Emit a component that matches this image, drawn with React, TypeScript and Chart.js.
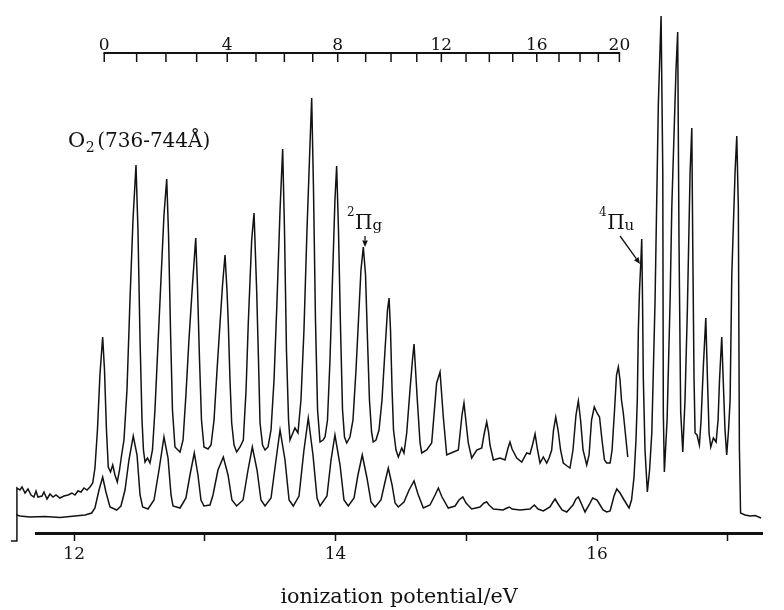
import React, { useEffect, useRef } from 'react';
import { Chart, registerables } from 'chart.js';

Chart.register(...registerables);

const INK = '#121212';
const SERIF = '"DejaVu Serif", "Liberation Serif", serif';

// ---- data: [ionization potential (eV), relative intensity] ----
const upperTrace: [number, number][] = [
  [11.562, 18], [11.562, 45], [11.585, 43], [11.601, 46], [11.624, 40], [11.647, 44], [11.670, 38], [11.692, 36],
  [11.708, 42], [11.723, 36], [11.754, 37], [11.769, 41], [11.792, 34], [11.815, 39], [11.838, 36], [11.861, 38],
  [11.891, 35], [11.922, 37], [11.953, 38], [11.983, 40], [12.006, 38], [12.029, 42], [12.052, 41], [12.075, 45],
  [12.098, 43], [12.121, 46], [12.142, 50], [12.159, 65], [12.178, 103], [12.197, 158], [12.218, 196], [12.232, 163],
  [12.247, 103], [12.261, 66], [12.278, 61], [12.295, 68], [12.312, 58], [12.330, 51], [12.347, 63], [12.363, 78],
  [12.381, 93], [12.404, 143], [12.427, 233], [12.450, 313], [12.473, 368], [12.488, 303], [12.504, 193], [12.519, 113],
  [12.530, 83], [12.542, 71], [12.561, 75], [12.580, 70], [12.599, 83], [12.618, 123], [12.641, 188], [12.664, 253],
  [12.687, 318], [12.708, 354], [12.722, 298], [12.737, 203], [12.752, 123], [12.771, 86], [12.794, 83], [12.810, 81],
  [12.833, 93], [12.855, 138], [12.878, 193], [12.905, 248], [12.930, 295], [12.943, 248], [12.959, 173], [12.974, 113],
  [12.993, 86], [13.024, 84], [13.047, 88], [13.070, 113], [13.093, 163], [13.116, 210], [13.135, 248], [13.154, 278],
  [13.169, 243], [13.179, 210], [13.192, 153], [13.205, 110], [13.223, 88], [13.243, 81], [13.269, 86], [13.294, 93],
  [13.315, 143], [13.332, 210], [13.358, 293], [13.376, 320], [13.396, 243], [13.410, 173], [13.422, 110], [13.441, 88],
  [13.460, 83], [13.483, 86], [13.506, 103], [13.529, 153], [13.552, 233], [13.575, 323], [13.595, 384], [13.609, 303],
  [13.624, 183], [13.640, 113], [13.651, 93], [13.670, 99], [13.689, 105], [13.712, 100], [13.735, 133], [13.758, 203],
  [13.781, 303], [13.800, 373], [13.817, 435], [13.831, 343], [13.846, 213], [13.862, 123], [13.881, 91], [13.904, 93],
  [13.919, 96], [13.938, 113], [13.957, 173], [13.976, 253], [13.995, 333], [14.008, 367], [14.022, 303], [14.038, 203],
  [14.053, 123], [14.068, 96], [14.085, 90], [14.110, 96], [14.133, 113], [14.156, 163], [14.175, 213], [14.194, 263],
  [14.212, 286], [14.229, 258], [14.244, 193], [14.259, 133], [14.275, 101], [14.288, 91], [14.309, 93], [14.332, 103],
  [14.355, 133], [14.378, 183], [14.397, 223], [14.409, 235], [14.420, 203], [14.432, 143], [14.443, 103], [14.462, 83],
  [14.480, 76], [14.506, 85], [14.523, 80], [14.544, 100], [14.569, 143], [14.588, 173], [14.600, 189], [14.625, 133],
  [14.646, 90], [14.659, 80], [14.697, 83], [14.735, 90], [14.773, 150], [14.799, 161], [14.824, 116], [14.850, 78],
  [14.901, 81], [14.939, 83], [14.967, 118], [14.982, 130], [15.015, 90], [15.041, 75], [15.080, 83], [15.118, 85],
  [15.135, 98], [15.156, 111], [15.170, 101], [15.181, 88], [15.207, 73], [15.258, 75], [15.296, 73], [15.319, 85],
  [15.334, 91], [15.350, 84], [15.386, 75], [15.424, 71], [15.462, 80], [15.487, 79], [15.506, 88], [15.526, 99],
  [15.545, 83], [15.564, 70], [15.589, 76], [15.615, 70], [15.633, 75], [15.653, 83], [15.667, 103], [15.684, 116],
  [15.702, 103], [15.721, 83], [15.742, 70], [15.771, 67], [15.793, 65], [15.816, 83], [15.839, 118], [15.857, 132],
  [15.874, 113], [15.893, 83], [15.921, 68], [15.939, 78], [15.958, 113], [15.979, 126], [16.000, 120], [16.019, 116],
  [16.038, 93], [16.057, 73], [16.074, 70], [16.100, 70], [16.115, 83], [16.134, 123], [16.149, 158], [16.163, 166],
  [16.176, 153], [16.187, 133], [16.201, 120], [16.218, 98], [16.235, 76],
];

const lowerTrace: [number, number][] = [
  [11.516, -8], [11.562, -8], [11.562, 18], [11.585, 17], [11.662, 16], [11.777, 16.5], [11.891, 15.5], [12.006, 17],
  [12.083, 18], [12.134, 20], [12.159, 25], [12.190, 43], [12.218, 56], [12.243, 41], [12.274, 26], [12.325, 23],
  [12.358, 27], [12.389, 43], [12.419, 73], [12.452, 97], [12.481, 78], [12.504, 38], [12.524, 26], [12.565, 24],
  [12.611, 33], [12.649, 63], [12.687, 96], [12.718, 75], [12.741, 38], [12.756, 27], [12.810, 25], [12.855, 35],
  [12.886, 58], [12.919, 80], [12.947, 58], [12.970, 33], [12.993, 27], [13.039, 28], [13.062, 38], [13.100, 63],
  [13.141, 76], [13.177, 58], [13.207, 33], [13.243, 27], [13.292, 33], [13.330, 63], [13.363, 86], [13.399, 63],
  [13.429, 33], [13.460, 27], [13.506, 35], [13.544, 73], [13.575, 103], [13.613, 73], [13.644, 33], [13.676, 27],
  [13.720, 37], [13.758, 83], [13.791, 115], [13.827, 78], [13.858, 35], [13.881, 27], [13.934, 37], [13.965, 73],
  [13.995, 98], [14.034, 68], [14.064, 33], [14.097, 27], [14.141, 35], [14.171, 58], [14.204, 78], [14.240, 55],
  [14.271, 31], [14.302, 26], [14.347, 33], [14.378, 51], [14.403, 65], [14.432, 48], [14.455, 30], [14.480, 26],
  [14.523, 31], [14.562, 43], [14.600, 52], [14.630, 39], [14.671, 25], [14.722, 28], [14.761, 38], [14.786, 45],
  [14.814, 36], [14.862, 25], [14.914, 27], [14.944, 33], [14.973, 36], [14.998, 30], [15.041, 24], [15.105, 26],
  [15.135, 30], [15.156, 31], [15.174, 28], [15.207, 24], [15.281, 23], [15.311, 25], [15.329, 26], [15.350, 24],
  [15.411, 23], [15.487, 24], [15.520, 28], [15.549, 24], [15.589, 22], [15.640, 26], [15.663, 31], [15.679, 34],
  [15.702, 29], [15.732, 23], [15.768, 21], [15.816, 28], [15.839, 34], [15.857, 36], [15.878, 30], [15.908, 21],
  [15.939, 28], [15.967, 35], [16.000, 33], [16.023, 28], [16.046, 23], [16.074, 21], [16.100, 22], [16.130, 37],
  [16.151, 44], [16.176, 40], [16.207, 33], [16.245, 25], [16.264, 33], [16.283, 56], [16.298, 93], [16.308, 133],
  [16.316, 203], [16.325, 243], [16.334, 268], [16.342, 294], [16.348, 233], [16.354, 155], [16.367, 83], [16.385, 41],
  [16.402, 63], [16.419, 100], [16.444, 233], [16.469, 429], [16.490, 517], [16.503, 361], [16.507, 121], [16.515, 61],
  [16.536, 113], [16.559, 233], [16.572, 326], [16.604, 463], [16.617, 501], [16.627, 292], [16.640, 121], [16.656, 81],
  [16.673, 133], [16.691, 223], [16.712, 361], [16.725, 405], [16.732, 292], [16.742, 155], [16.750, 100], [16.765, 98],
  [16.783, 88], [16.796, 113], [16.813, 166], [16.832, 215], [16.845, 153], [16.857, 100], [16.870, 86], [16.890, 95],
  [16.911, 91], [16.926, 113], [16.937, 153], [16.954, 196], [16.968, 143], [16.979, 103], [16.992, 78], [17.006, 103],
  [17.018, 133], [17.031, 258], [17.056, 361], [17.069, 397], [17.081, 326], [17.089, 86], [17.098, 20], [17.132, 18],
  [17.171, 17], [17.209, 17.5], [17.255, 15],
];

// bottom axis (ionization potential, eV)
const bottomTickEv = [12, 13, 14, 15, 16, 17];
const bottomTickLabels = ['12', '', '14', '', '16', ''];
const evRange = [11.708, 17.262];
const intensityRange = [0, 533];

// top scale: vibrational numbering, positions in eV
const topScaleEv = [
  12.230, 12.478, 12.702, 12.937, 13.171, 13.391, 13.608, 13.825, 14.016, 14.230, 14.424,
  14.621, 14.809, 14.998, 15.176, 15.355, 15.539, 15.709, 15.870, 16.010, 16.171,
];
const topScaleLabels = [
  '0', '', '', '', '4', '', '', '', '8', '', '', '', '12', '', '', '', '16', '', '', '', '20',
];

// annotation anchors in data coordinates [eV, intensity]
const moleculeLabelAt: [number, number] = [11.953, 386];
const stateLabels = [
  { sup: '2', main: 'Π', sub: 'g', at: [14.087, 304] as [number, number], arrowFrom: [14.225, 297] as [number, number], arrowTo: [14.225, 286] as [number, number] },
  { sup: '4', main: 'Π', sub: 'u', at: [16.015, 304] as [number, number], arrowFrom: [16.176, 297] as [number, number], arrowTo: [16.329, 269] as [number, number] },
];

type Part = { text: string; size: number; dx?: number; dy?: number };

function drawParts(ctx: CanvasRenderingContext2D, x: number, y: number, parts: Part[]) {
  let cx = x;
  for (const p of parts) {
    ctx.font = `${p.size}px ${SERIF}`;
    cx += p.dx ?? 0;
    ctx.fillText(p.text, cx, y + (p.dy ?? 0));
    cx += ctx.measureText(p.text).width;
  }
}

function drawArrow(ctx: CanvasRenderingContext2D, x1: number, y1: number, x2: number, y2: number) {
  const ang = Math.atan2(y2 - y1, x2 - x1);
  const head = 6.5;
  const half = 2.8;
  const bx = x2 - head * Math.cos(ang);
  const by = y2 - head * Math.sin(ang);
  ctx.beginPath();
  ctx.moveTo(x1, y1);
  ctx.lineTo(bx, by);
  ctx.lineWidth = 1.3;
  ctx.stroke();
  ctx.beginPath();
  ctx.moveTo(x2, y2);
  ctx.lineTo(bx + half * Math.sin(ang), by - half * Math.cos(ang));
  ctx.lineTo(bx - half * Math.sin(ang), by + half * Math.cos(ang));
  ctx.closePath();
  ctx.fill();
}

const overlayPlugin = {
  id: 'overlay',
  afterDraw(chart: any) {
    const ctx: CanvasRenderingContext2D = chart.ctx;
    const xs = chart.scales.x;
    const ys = chart.scales.y;
    ctx.save();
    ctx.strokeStyle = INK;
    ctx.fillStyle = INK;
    ctx.textBaseline = 'alphabetic';

    // top scale
    const lineY = 53;
    const x0 = xs.getPixelForValue(topScaleEv[0]);
    const x1 = xs.getPixelForValue(topScaleEv[topScaleEv.length - 1]);
    ctx.lineWidth = 2;
    ctx.beginPath();
    ctx.moveTo(x0 - 0.75, lineY);
    ctx.lineTo(x1 + 0.75, lineY);
    ctx.stroke();
    ctx.lineWidth = 1.5;
    ctx.textAlign = 'center';
    ctx.font = `17px ${SERIF}`;
    topScaleEv.forEach((ev, i) => {
      const px = xs.getPixelForValue(ev);
      ctx.beginPath();
      ctx.moveTo(px, lineY);
      ctx.lineTo(px, lineY + 9);
      ctx.stroke();
      if (topScaleLabels[i]) ctx.fillText(topScaleLabels[i], px, lineY - 3);
    });

    // molecule label
    ctx.textAlign = 'left';
    drawParts(ctx, xs.getPixelForValue(moleculeLabelAt[0]), ys.getPixelForValue(moleculeLabelAt[1]), [
      { text: 'O', size: 21 },
      { text: '2', size: 14, dx: 0.5, dy: 5 },
      { text: '(736-744Å)', size: 20, dx: 2.5 },
    ]);

    // state labels and arrows
    for (const s of stateLabels) {
      const lx = xs.getPixelForValue(s.at[0]);
      const ly = ys.getPixelForValue(s.at[1]);
      drawParts(ctx, lx, ly, [
        { text: s.sup, size: 12, dy: -13 },
        { text: s.main, size: 20, dx: 0.5 },
        { text: s.sub, size: 15, dy: 1 },
      ]);
      drawArrow(
        ctx,
        xs.getPixelForValue(s.arrowFrom[0]), ys.getPixelForValue(s.arrowFrom[1]),
        xs.getPixelForValue(s.arrowTo[0]), ys.getPixelForValue(s.arrowTo[1]),
      );
    }
    ctx.restore();
  },
};

export default function App() {
  const canvasRef = useRef<HTMLCanvasElement | null>(null);

  useEffect(() => {
    if (!canvasRef.current) return;
    const toXY = (arr: [number, number][]) => arr.map(([x, y]) => ({ x, y }));
    const lineStyle = {
      borderColor: INK,
      borderWidth: 1.5,
      pointRadius: 0,
      pointHoverRadius: 0,
      tension: 0,
      fill: false,
      clip: false as const,
    };
    const chart = new Chart(canvasRef.current, {
      type: 'line',
      data: {
        datasets: [
          { label: 'upper', data: toXY(upperTrace), ...lineStyle },
          { label: 'lower', data: toXY(lowerTrace), ...lineStyle },
        ],
      },
      options: {
        animation: false,
        responsive: false,
        devicePixelRatio: 1,
        events: [],
        layout: { padding: { left: 36, right: 22, top: 0, bottom: 0 } },
        plugins: {
          legend: { display: false },
          tooltip: { enabled: false },
          title: { display: false },
        },
        scales: {
          x: {
            type: 'linear',
            position: 'bottom',
            bounds: 'data',
            afterDataLimits: (scale: any) => {
              scale.min = evRange[0];
              scale.max = evRange[1];
            },
            afterBuildTicks: (scale: any) => {
              scale.ticks = bottomTickEv.map((v) => ({ value: v }));
            },
            afterFit: (scale: any) => {
              scale.height = 77;
            },
            ticks: {
              autoSkip: false,
              maxRotation: 0,
              minRotation: 0,
              padding: 3,
              color: INK,
              font: { family: SERIF, size: 17 },
              callback: (_v: any, i: number) => bottomTickLabels[i] ?? '',
            },
            grid: {
              drawOnChartArea: false,
              drawTicks: true,
              tickLength: 8,
              tickWidth: 1.5,
              tickColor: INK,
              color: INK,
            },
            border: { display: true, color: INK, width: 3 },
            title: {
              display: true,
              text: 'ionization potential/eV',
              color: INK,
              font: { family: SERIF, size: 20.7 },
              padding: { top: 0, bottom: 0 },
            },
          },
          y: {
            type: 'linear',
            display: false,
            min: intensityRange[0],
            max: intensityRange[1],
          },
        },
      },
      plugins: [overlayPlugin],
    } as any);
    return () => chart.destroy();
  }, []);

  return (
    <div style={{ position: 'fixed', left: 0, top: 0, width: 784, height: 610, background: '#fff' }}>
      <canvas ref={canvasRef} width={784} height={610} style={{ display: 'block', width: 784, height: 610 }} />
    </div>
  );
}
